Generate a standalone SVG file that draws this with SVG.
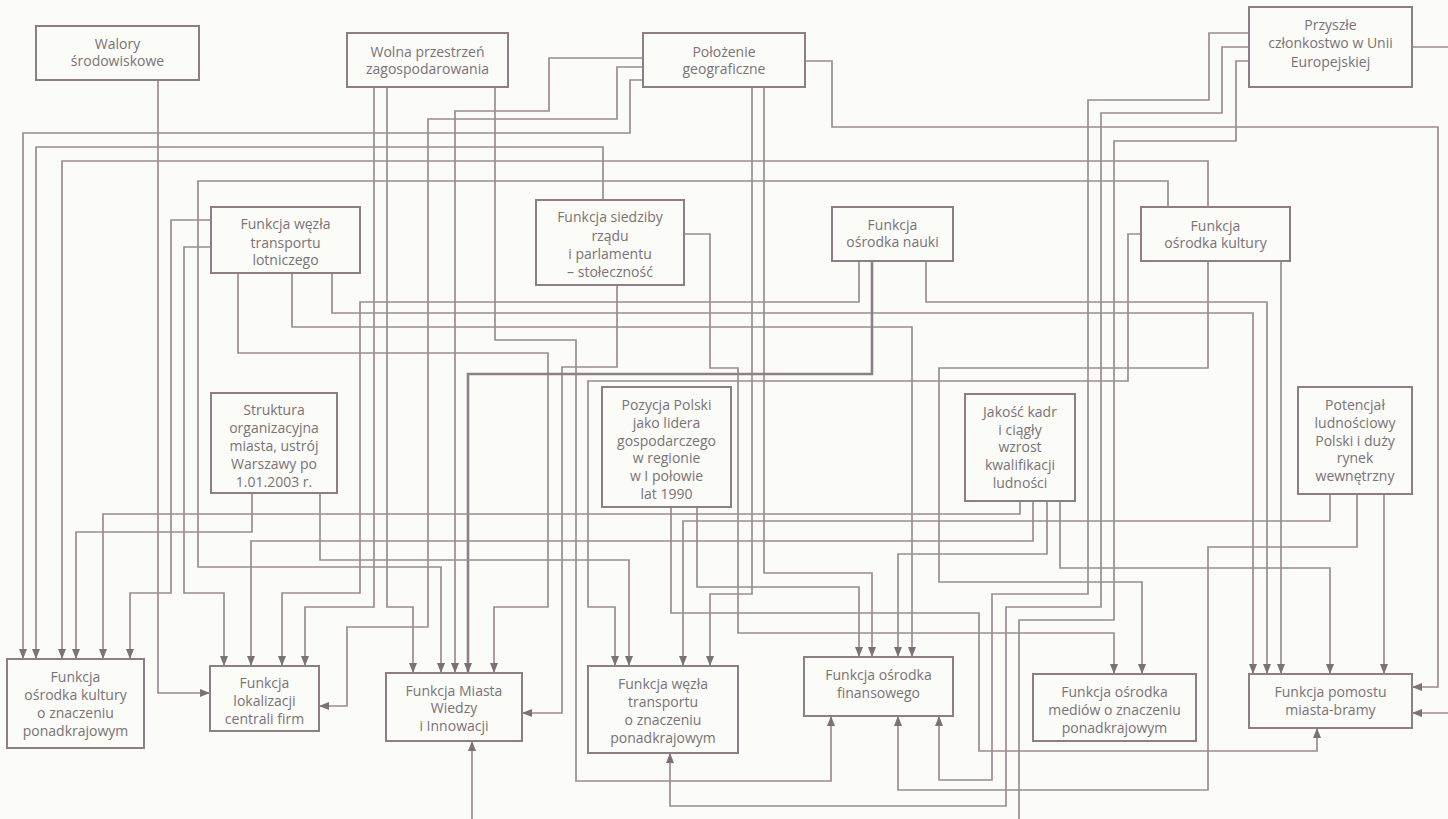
<svg xmlns="http://www.w3.org/2000/svg" width="1448" height="819" viewBox="0 0 1448 819">
<style>
.bg{fill:#fbfbf8}
.box{fill:#fbfbf8;stroke:#8e7d85;stroke-width:2}
.t{font-family:"Open Sans","Noto Sans","DejaVu Sans",sans-serif;font-size:14px;fill:#7a7276;text-anchor:middle}
.c{fill:none;stroke:#9c8c93;stroke-width:1.7;marker-end:url(#ah)}
.n{fill:none;stroke:#9c8c93;stroke-width:1.7}
.thick{stroke-width:2.6;stroke:#8f7f86}
</style>
<defs>
<marker id="ah" markerUnits="userSpaceOnUse" markerWidth="10" markerHeight="10" refX="10" refY="5" orient="auto">
<path d="M0,1 L10,5 L0,9 z" fill="#7d7175"/>
</marker>
</defs>
<rect class="bg" x="0" y="0" width="1448" height="819"/>
<g id="connectors">
<polyline class="c" points="158,80 158,693 210,693"/>
<polyline class="c" points="374,87 374,607 305,607 305,666"/>
<polyline class="c" points="387,87 387,607 413,607 413,673"/>
<polyline class="c" points="495,87 495,340 576,340 576,781 831,781 831,716"/>
<polyline class="c" points="643,58 549,58 549,111 455,111 455,673"/>
<polyline class="c" points="643,67 617,67 617,119 428,119 428,627 347,627 347,706 319,706"/>
<polyline class="c" points="643,80 630,80 630,133 23,133 23,659"/>
<polyline class="c" points="805,61 832,61 832,127 1438,127 1438,687 1412,687"/>
<polyline class="c" points="752,87 752,594 710,594 710,666"/>
<polyline class="c" points="764,87 764,573 872,573 872,657"/>
<polyline class="n" points="1412,47 1448,47"/>
<polyline class="c" points="1448,713 1412,713"/>
<polyline class="c" points="1249,33 1209,33 1209,100 1088,100 1088,594 992,594 992,780 939,780 939,716"/>
<polyline class="c" points="1249,47 1222,47 1222,113 1101,113 1101,607 1006,607 1006,806 670,806 670,753"/>
<polyline class="n" points="1249,61 1236,61 1236,141 1114,141 1114,620 1019,620 1019,819"/>
<polyline class="c" points="603,200 603,147 36,147 36,659"/>
<polyline class="c" points="1208,207 1208,161 62,161 62,659"/>
<polyline class="c" points="1168,207 1168,181 198,181 198,567 441,567 441,673"/>
<polyline class="c" points="1141,234 1128,234 1128,381 588,381 588,607 615,607 615,666"/>
<polyline class="c" points="1208,261 1208,368 939,368 939,582 1142,582 1142,674"/>
<polyline class="c" points="1281,261 1281,674"/>
<polyline class="c" points="211,220 171,220 171,593 130,593 130,659"/>
<polyline class="c" points="211,247 184,247 184,593 224,593 224,666"/>
<polyline class="c" points="238,273 238,353 548,353 548,607 494,607 494,673"/>
<polyline class="c" points="292,273 292,327 912,327 912,657"/>
<polyline class="c" points="332,273 332,313 1253,313 1253,674"/>
<polyline class="c" points="684,234 710,234 710,368 738,368 738,633 1114,633 1114,674"/>
<polyline class="c" points="617,285 617,367 562,367 562,713 522,713"/>
<polyline class="c" points="859,261 859,302 360,302 360,593 282,593 282,666"/>
<polyline class="c thick" points="872,261 872,374 468,374 468,673"/>
<polyline class="c" points="926,261 926,302 1267,302 1267,674"/>
<polyline class="c" points="252,493 252,532 76,532 76,659"/>
<polyline class="c" points="320,493 320,560 629,560 629,666"/>
<polyline class="c" points="671,507 671,613 979,613 979,751 1317,751 1317,728"/>
<polyline class="c" points="697,507 697,587 859,587 859,657"/>
<polyline class="c" points="1020,501 1020,514 103,514 103,659"/>
<polyline class="c" points="1033,501 1033,541 251,541 251,666"/>
<polyline class="c" points="1047,501 1047,554 898,554 898,657"/>
<polyline class="c" points="1060,501 1060,568 1330,568 1330,674"/>
<polyline class="c" points="1330,494 1330,521 683,521 683,666"/>
<polyline class="c" points="1357,494 1357,547 1208,547 1208,790 898,790 898,716"/>
<polyline class="c" points="1384,494 1384,674"/>
<polyline class="c" points="472,819 472,741"/>
</g>
<g id="n-walory"><rect class="box" x="36" y="26" width="163" height="54"/><text class="t" x="117.5" y="49">Walory</text><text class="t" x="117.5" y="66">środowiskowe</text></g>
<g id="n-wolna"><rect class="box" x="347" y="33" width="161" height="54"/><text class="t" x="427.5" y="57">Wolna przestrzeń</text><text class="t" x="427.5" y="74">zagospodarowania</text></g>
<g id="n-polozenie"><rect class="box" x="643" y="33" width="162" height="54"/><text class="t" x="724" y="57">Położenie</text><text class="t" x="724" y="74">geograficzne</text></g>
<g id="n-przyszle"><rect class="box" x="1249" y="7" width="163" height="80"/><text class="t" x="1330.5" y="30">Przyszłe</text><text class="t" x="1330.5" y="48">członkostwo w Unii</text><text class="t" x="1330.5" y="67">Europejskiej</text></g>
<g id="n-lotniczy"><rect class="box" x="211" y="207" width="149" height="66"/><text class="t" x="285.5" y="229">Funkcja węzła</text><text class="t" x="285.5" y="248">transportu</text><text class="t" x="285.5" y="265">lotniczego</text></g>
<g id="n-siedziby"><rect class="box" x="536" y="200" width="148" height="85"/><text class="t" x="610" y="222">Funkcja siedziby</text><text class="t" x="610" y="241">rządu</text><text class="t" x="610" y="259">i parlamentu</text><text class="t" x="610" y="277">– stołeczność</text></g>
<g id="n-nauki"><rect class="box" x="832" y="207" width="121" height="54"/><text class="t" x="892.5" y="230">Funkcja</text><text class="t" x="892.5" y="247">ośrodka nauki</text></g>
<g id="n-kultury"><rect class="box" x="1141" y="207" width="149" height="54"/><text class="t" x="1215.5" y="231">Funkcja</text><text class="t" x="1215.5" y="248">ośrodka kultury</text></g>
<g id="n-struktura"><rect class="box" x="211" y="393" width="126" height="100"/><text class="t" x="274" y="415">Struktura</text><text class="t" x="274" y="433">organizacyjna</text><text class="t" x="274" y="451">miasta, ustrój</text><text class="t" x="274" y="469">Warszawy po</text><text class="t" x="274" y="487">1.01.2003 r.</text></g>
<g id="n-pozycja"><rect class="box" x="602" y="387" width="129" height="120"/><text class="t" x="666.5" y="410">Pozycja Polski</text><text class="t" x="666.5" y="428">jako lidera</text><text class="t" x="666.5" y="446">gospodarczego</text><text class="t" x="666.5" y="463">w regionie</text><text class="t" x="666.5" y="481">w I połowie</text><text class="t" x="666.5" y="499">lat 1990</text></g>
<g id="n-jakosc"><rect class="box" x="965" y="394" width="110" height="107"/><text class="t" x="1020" y="417">Jakość kadr</text><text class="t" x="1020" y="435">i ciągły</text><text class="t" x="1020" y="452">wzrost</text><text class="t" x="1020" y="470">kwalifikacji</text><text class="t" x="1020" y="488">ludności</text></g>
<g id="n-potencjal"><rect class="box" x="1298" y="387" width="114" height="107"/><text class="t" x="1355" y="410">Potencjał</text><text class="t" x="1355" y="428">ludnościowy</text><text class="t" x="1355" y="446">Polski i duży</text><text class="t" x="1355" y="463">rynek</text><text class="t" x="1355" y="481">wewnętrzny</text></g>
<g id="n-kultury-pk"><rect class="box" x="7" y="659" width="137" height="89"/><text class="t" x="75.5" y="682">Funkcja</text><text class="t" x="75.5" y="700">ośrodka kultury</text><text class="t" x="75.5" y="718">o znaczeniu</text><text class="t" x="75.5" y="736">ponadkrajowym</text></g>
<g id="n-lokalizacji"><rect class="box" x="210" y="666" width="109" height="65"/><text class="t" x="264.5" y="688">Funkcja</text><text class="t" x="264.5" y="706">lokalizacji</text><text class="t" x="264.5" y="724">centrali firm</text></g>
<g id="n-miasta"><rect class="box" x="386" y="673" width="136" height="68"/><text class="t" x="454" y="696">Funkcja Miasta</text><text class="t" x="454" y="713">Wiedzy</text><text class="t" x="454" y="731">i Innowacji</text></g>
<g id="n-wezla-pk"><rect class="box" x="588" y="666" width="150" height="87"/><text class="t" x="663" y="689">Funkcja węzła</text><text class="t" x="663" y="707">transportu</text><text class="t" x="663" y="725">o znaczeniu</text><text class="t" x="663" y="743">ponadkrajowym</text></g>
<g id="n-finansowego"><rect class="box" x="804" y="657" width="149" height="59"/><text class="t" x="878.5" y="680">Funkcja ośrodka</text><text class="t" x="878.5" y="698">finansowego</text></g>
<g id="n-mediow"><rect class="box" x="1033" y="674" width="163" height="67"/><text class="t" x="1114.5" y="697">Funkcja ośrodka</text><text class="t" x="1114.5" y="715">mediów o znaczeniu</text><text class="t" x="1114.5" y="733">ponadkrajowym</text></g>
<g id="n-pomostu"><rect class="box" x="1249" y="674" width="163" height="54"/><text class="t" x="1330.5" y="697">Funkcja pomostu</text><text class="t" x="1330.5" y="715">miasta-bramy</text></g>
</svg>
